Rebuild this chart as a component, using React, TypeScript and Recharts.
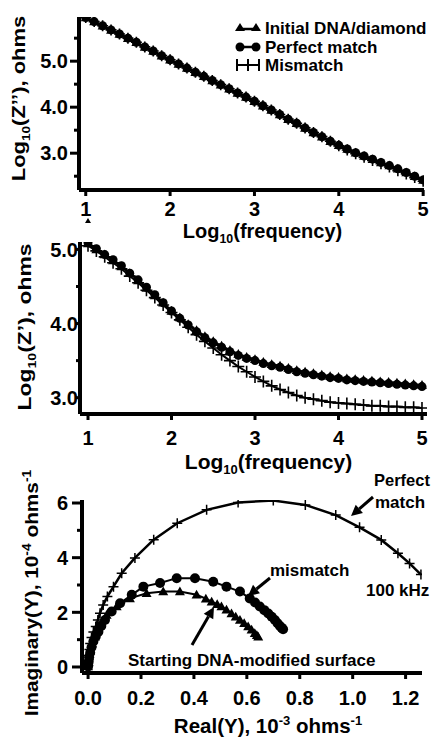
import React from 'react'
import { LineChart, Line, XAxis, YAxis } from 'recharts'

const FONT = "'Liberation Sans', Arial, Helvetica, sans-serif"
const ink = '#000'

// log10(frequency), shared by the two Bode panels
const logFreq = [
  1.0, 1.1, 1.2, 1.3, 1.4, 1.5, 1.6, 1.7, 1.8, 1.9, 2.0, 2.1, 2.2, 2.3, 2.4, 2.5, 2.6, 2.7, 2.8, 2.9, 3.0,
  3.1, 3.2, 3.3, 3.4, 3.5, 3.6, 3.7, 3.8, 3.9, 4.0, 4.1, 4.2, 4.3, 4.4, 4.5, 4.6, 4.7, 4.8, 4.9, 5.0,
]

// top panel: log10(Z'')
const zImagInitial = [
  5.95, 5.86, 5.77, 5.68, 5.59, 5.50, 5.41, 5.31, 5.22, 5.12, 5.03, 4.94, 4.85, 4.76, 4.67, 4.58, 4.49, 4.40, 4.31, 4.22, 4.13,
  4.03, 3.94, 3.84, 3.74, 3.65, 3.55, 3.45, 3.36, 3.26, 3.17, 3.09, 3.01, 2.94, 2.87, 2.80, 2.73, 2.66, 2.58, 2.50, 2.42,
]
const zImagPerfect = [
  5.95, 5.86, 5.77, 5.68, 5.59, 5.50, 5.41, 5.31, 5.22, 5.12, 5.03, 4.94, 4.85, 4.76, 4.67, 4.58, 4.49, 4.40, 4.31, 4.22, 4.13,
  4.03, 3.94, 3.84, 3.74, 3.65, 3.55, 3.45, 3.36, 3.26, 3.17, 3.09, 3.01, 2.94, 2.87, 2.80, 2.73, 2.66, 2.58, 2.50, 2.42,
]
const zImagMismatch = [
  5.95, 5.86, 5.77, 5.68, 5.59, 5.50, 5.41, 5.31, 5.22, 5.12, 5.03, 4.94, 4.85, 4.76, 4.67, 4.58, 4.49, 4.40, 4.31, 4.22, 4.13,
  4.03, 3.94, 3.84, 3.74, 3.65, 3.55, 3.45, 3.36, 3.26, 3.16, 3.07, 2.99, 2.91, 2.84, 2.77, 2.70, 2.62, 2.55, 2.47, 2.39,
]

// middle panel: log10(Z')
const zRealInitial = [
  5.08, 5.00, 4.93, 4.85, 4.77, 4.68, 4.58, 4.48, 4.38, 4.28, 4.17, 4.08, 3.99, 3.91, 3.83, 3.76, 3.70, 3.64, 3.59, 3.55, 3.52,
  3.48, 3.45, 3.43, 3.40, 3.37, 3.35, 3.33, 3.31, 3.29, 3.28, 3.26, 3.25, 3.24, 3.23, 3.22, 3.21, 3.20, 3.19, 3.18, 3.17,
]
const zRealPerfect = [
  5.09, 5.01, 4.93, 4.86, 4.78, 4.68, 4.59, 4.49, 4.39, 4.28, 4.17, 4.07, 3.98, 3.89, 3.81, 3.74, 3.68, 3.62, 3.57, 3.53, 3.50,
  3.46, 3.43, 3.41, 3.38, 3.35, 3.33, 3.31, 3.29, 3.27, 3.26, 3.24, 3.23, 3.22, 3.21, 3.20, 3.19, 3.18, 3.17, 3.16, 3.15,
]
const zRealMismatch = [
  5.05, 4.98, 4.90, 4.82, 4.74, 4.64, 4.55, 4.45, 4.35, 4.25, 4.15, 4.05, 3.95, 3.85, 3.76, 3.67, 3.58, 3.50, 3.42, 3.35, 3.28,
  3.22, 3.16, 3.11, 3.07, 3.03, 3.00, 2.98, 2.96, 2.94, 2.93, 2.92, 2.91, 2.90, 2.89, 2.89, 2.88, 2.88, 2.87, 2.87, 2.86,
]

// bottom panel: admittance plane, Real(Y) in 1e-3, Imag(Y) in 1e-4
const triRe = [0.000, 0.002, 0.004, 0.008, 0.015, 0.026, 0.035, 0.045, 0.070, 0.108, 0.158, 0.221, 0.284, 0.347, 0.410, 0.445, 0.467, 0.488, 0.504, 0.523, 0.542, 0.558, 0.574, 0.590, 0.605, 0.618, 0.630, 0.638, 0.643]
const triIm = [0.02, 0.18, 0.38, 0.60, 0.86, 1.11, 1.32, 1.54, 1.90, 2.21, 2.51, 2.70, 2.76, 2.76, 2.64, 2.50, 2.39, 2.30, 2.21, 2.09, 1.96, 1.84, 1.72, 1.60, 1.48, 1.36, 1.23, 1.16, 1.11]
const dotRe = [0.000, 0.002, 0.004, 0.008, 0.013, 0.020, 0.029, 0.039, 0.050, 0.064, 0.089, 0.121, 0.165, 0.209, 0.272, 0.335, 0.404, 0.473, 0.523, 0.574, 0.611, 0.631, 0.649, 0.666, 0.681, 0.694, 0.706, 0.716, 0.725, 0.732, 0.737]
const dotIm = [0.02, 0.18, 0.36, 0.52, 0.72, 0.93, 1.12, 1.29, 1.50, 1.72, 2.03, 2.33, 2.64, 2.94, 3.07, 3.25, 3.25, 3.12, 2.94, 2.76, 2.51, 2.36, 2.21, 2.08, 1.96, 1.84, 1.72, 1.60, 1.50, 1.43, 1.38]
const crossRe = [0.000, 0.001, 0.003, 0.005, 0.008, 0.013, 0.020, 0.029, 0.037, 0.045, 0.057, 0.073, 0.096, 0.127, 0.177, 0.248, 0.337, 0.448, 0.567, 0.700, 0.821, 0.936, 1.026, 1.108, 1.171, 1.215, 1.258]
const crossIm = [0.05, 0.22, 0.42, 0.64, 0.86, 1.08, 1.28, 1.48, 1.72, 1.97, 2.27, 2.58, 2.94, 3.43, 3.99, 4.66, 5.26, 5.75, 6.02, 6.09, 5.93, 5.56, 5.11, 4.65, 4.16, 3.79, 3.38]

const freqTicks = [1, 2, 3, 4, 5]
const imagYTicks = [2.5, 3.0, 3.5, 4.0, 4.5, 5.0, 5.5]
const realYTicks = [3.0, 3.5, 4.0, 4.5, 5.0]
const bodeYLabels = [3, 4, 5]
const reTicks = [0, 0.2, 0.4, 0.6, 0.8, 1.0, 1.2]
const imTicks = [0, 1, 2, 3, 4, 5, 6]
const imLabels = [0, 2, 4, 6]

const imagRows = logFreq.map((f, i) => ({ f, tri: zImagInitial[i], dot: zImagPerfect[i], crs: zImagMismatch[i] }))
const realRows = logFreq.map((f, i) => ({ f, tri: zRealInitial[i], dot: zRealPerfect[i], crs: zRealMismatch[i] }))
const triPts = triRe.map((x, i) => ({ x, y: triIm[i] }))
const dotPts = dotRe.map((x, i) => ({ x, y: dotIm[i] }))
const crossPts = crossRe.map((x, i) => ({ x, y: crossIm[i] }))

const triDot = (r: number) => (p: any) =>
  p.cx == null ? <g key={p.index} /> : (
    <path key={p.index} d={`M${p.cx},${p.cy - r}L${p.cx + r},${p.cy + r * 0.75}L${p.cx - r},${p.cy + r * 0.75}Z`} fill={ink} />
  )
const circleDot = (r: number) => (p: any) =>
  p.cx == null ? <g key={p.index} /> : <circle key={p.index} cx={p.cx} cy={p.cy} r={r} fill={ink} />
const crossDot = (r: number, w: number) => (p: any) =>
  p.cx == null ? <g key={p.index} /> : (
    <path key={p.index} d={`M${p.cx - r},${p.cy}H${p.cx + r}M${p.cx},${p.cy - r}V${p.cy + r}`} stroke={ink} strokeWidth={w} fill="none" />
  )

// left ticks: long ones carry a label, short ones do not
const yTick = (labeled: number[], fmt: (v: number) => string, major: number, minor: number, gap: number) => (p: any) => {
  const v = p.payload.value
  const isMajor = labeled.includes(v)
  const len = isMajor ? major : minor
  return (
    <g key={`t${v}`}>
      <line x1={p.x - len} y1={p.y} x2={p.x} y2={p.y} stroke={ink} strokeWidth={3} />
      {isMajor && (
        <text x={p.x - len - gap} y={p.y} dy="0.36em" textAnchor="end" fontSize={20} fontWeight={700} fontFamily={FONT} fill={ink}>
          {fmt(v)}
        </text>
      )}
    </g>
  )
}

const xTitle = (dx: number, dy: number, size: number, parts: React.ReactNode) => ({
  content: (p: any) => {
    const vb = p.viewBox
    return (
      <text x={vb.x + vb.width / 2 + dx} y={vb.y + dy} textAnchor="middle" fontSize={size} fontWeight={700} fontFamily={FONT} fill={ink} style={{ whiteSpace: 'pre' }}>
        {parts}
      </text>
    )
  },
})

const yTitle = (baseX: number, dy: number, size: number, stretch: number, parts: React.ReactNode) => ({
  content: (p: any) => {
    const vb = p.viewBox
    const cy = vb.y + vb.height / 2 + dy
    return (
      <text transform={`translate(${baseX},${cy}) rotate(-90) scale(${stretch},1)`} textAnchor="middle" fontSize={size} fontWeight={700} fontFamily={FONT} fill={ink} style={{ whiteSpace: 'pre' }}>
        {parts}
      </text>
    )
  },
})

const sub = (s: string, size: number, rest: string) => [
  <tspan key="a" fontSize={size * 0.62} dy={size * 0.25}>{s}</tspan>,
  <tspan key="b" dy={-size * 0.25}>{rest}</tspan>,
]

const axisLine = { stroke: ink, strokeWidth: 4 }
const tickLine = { stroke: ink, strokeWidth: 3 }
const tickFont = { fill: ink, fontSize: 20, fontWeight: 700, fontFamily: FONT }

function Arrow({ x1, y1, x2, y2 }: { x1: number; y1: number; x2: number; y2: number }) {
  const a = Math.atan2(y2 - y1, x2 - x1)
  const L = 11
  const W = 5.5
  const bx = x2 - L * Math.cos(a)
  const by = y2 - L * Math.sin(a)
  const nx = -Math.sin(a) * W
  const ny = Math.cos(a) * W
  return (
    <g>
      <line x1={x1} y1={y1} x2={bx} y2={by} stroke={ink} strokeWidth={3} />
      <path d={`M${x2},${y2}L${bx + nx},${by + ny}L${bx - nx},${by - ny}Z`} fill={ink} />
    </g>
  )
}

function Overlay() {
  const t = { fontSize: 17, fontWeight: 700, fontFamily: FONT, fill: ink }
  return (
    <svg width={433} height={739} style={{ position: 'absolute', left: 0, top: 0, pointerEvents: 'none' }}>
      {/* legend */}
      <line x1={240} y1={29} x2={256} y2={29} stroke={ink} strokeWidth={2.5} />
      <path d="M240,23L245,31L235,31Z M256,23L261,31L251,31Z" fill={ink} />
      <line x1={240} y1={47} x2={256} y2={47} stroke={ink} strokeWidth={2.5} />
      <circle cx={240} cy={47} r={4.5} fill={ink} />
      <circle cx={256} cy={47} r={4.5} fill={ink} />
      <path d="M236,65H260M237,59V71M248,59V71M259,59V71" stroke={ink} strokeWidth={2} />
      <text x={265} y={34} {...t}>Initial DNA/diamond</text>
      <text x={265} y={53} {...t}>Perfect match</text>
      <text x={265} y={71} {...t}>Mismatch</text>
      <path d="M88,218L91,223L85,223Z" fill={ink} />

      {/* admittance annotations */}
      <text x={374} y={486} {...t} fontSize={16.5}>Perfect</text>
      <text x={375} y={508} {...t}>match</text>
      <Arrow x1={373} y1={497} x2={351} y2={516} />
      <text x={270} y={576} {...t}>mismatch</text>
      <Arrow x1={270} y1={578} x2={248} y2={596} />
      <text x={366} y={596} {...t}>100 kHz</text>
      <text x={128} y={666} {...t}>Starting DNA-modified surface</text>
      <Arrow x1={192} y1={645} x2={214} y2={607} />
    </svg>
  )
}

export default function App() {
  return (
    <div style={{ position: 'absolute', left: 0, top: 0, width: 433, height: 739, background: '#fff', overflow: 'hidden' }}>
      <LineChart width={433} height={252} data={imagRows} margin={{ top: 17, right: 9, bottom: 0, left: 0 }} style={{ position: 'absolute', left: 0, top: 0 }}>
        <XAxis type="number" dataKey="f" domain={[0.92, 5.01]} ticks={freqTicks} interval={0} allowDataOverflow height={62}
          tickSize={6} tickMargin={6} tick={tickFont} axisLine={axisLine} tickLine={tickLine}
          label={xTitle(11, 48, 20, ['Log', ...sub('10', 20, '(frequency)')])} />
        <YAxis type="number" domain={[2.2, 5.96]} ticks={imagYTicks} interval={0} allowDataOverflow width={79}
          tickSize={0} tickMargin={0} tickLine={false} axisLine={axisLine}
          tick={yTick(bodeYLabels, (v) => v.toFixed(1), 9, 5, 2)}
          label={yTitle(25, -5, 18, 1.22, ['Log', ...sub('10', 18, '(Z\u2019\u2019), ohms')])} />
        <Line dataKey="tri" stroke={ink} strokeWidth={2} dot={triDot(5)} activeDot={false} isAnimationActive={false} />
        <Line dataKey="dot" stroke={ink} strokeWidth={2} dot={circleDot(4.5)} activeDot={false} isAnimationActive={false} />
        <Line dataKey="crs" stroke={ink} strokeWidth={2} dot={crossDot(5.5, 1.6)} activeDot={false} isAnimationActive={false} />
      </LineChart>

      <LineChart width={433} height={244} data={realRows} margin={{ top: 2, right: 6, bottom: 0, left: 0 }} style={{ position: 'absolute', left: 0, top: 240 }}>
        <XAxis type="number" dataKey="f" domain={[0.904, 5.06]} ticks={freqTicks} interval={0} allowDataOverflow height={70}
          tickSize={6} tickMargin={11} tick={tickFont} axisLine={axisLine} tickLine={tickLine}
          label={xTitle(15, 55, 21, ['Log', ...sub('10', 21, '(frequency)')])} />
        <YAxis type="number" domain={[2.78, 5.1]} ticks={realYTicks} interval={0} allowDataOverflow width={80}
          tickSize={0} tickMargin={0} tickLine={false} axisLine={axisLine}
          tick={yTick(bodeYLabels, (v) => v.toFixed(1), 4, 4, -2)}
          label={yTitle(31, -1, 18, 1.27, ['Log', ...sub('10', 18, '(Z\u2019), ohms')])} />
        <Line dataKey="tri" stroke={ink} strokeWidth={2} dot={triDot(5)} activeDot={false} isAnimationActive={false} />
        <Line dataKey="dot" stroke={ink} strokeWidth={2} dot={circleDot(4.5)} activeDot={false} isAnimationActive={false} />
        <Line dataKey="crs" stroke={ink} strokeWidth={2} dot={crossDot(6, 1.6)} activeDot={false} isAnimationActive={false} />
      </LineChart>

      <LineChart width={433} height={289} margin={{ top: 50, right: 11, bottom: 0, left: 0 }} style={{ position: 'absolute', left: 0, top: 450 }}>
        <XAxis type="number" dataKey="x" domain={[-0.023, 1.262]} ticks={reTicks} interval={0} allowDataOverflow height={66}
          tickSize={6} tickMargin={12} tick={tickFont} axisLine={axisLine} tickLine={tickLine}
          tickFormatter={(v: number) => v.toFixed(1)}
          label={xTitle(16, 60, 20.5, [
            'Real(Y), 10',
            <tspan key="s1" fontSize={13} dy={-8}>-3</tspan>,
            <tspan key="s2" dy={8}> ohms</tspan>,
            <tspan key="s3" fontSize={13} dy={-8}>-1</tspan>,
          ])} />
        <YAxis type="number" dataKey="y" domain={[-0.22, 6.11]} ticks={imTicks} interval={0} allowDataOverflow width={82}
          tickSize={0} tickMargin={0} tickLine={false} axisLine={axisLine}
          tick={yTick(imLabels, (v) => String(v), 10, 5, 4)}
          label={yTitle(38, 6.5, 18, 1.156, [
            'Imaginary(Y), 10',
            <tspan key="s1" fontSize={12} dy={-7}>-4</tspan>,
            <tspan key="s2" dy={7}> ohms</tspan>,
            <tspan key="s3" fontSize={12} dy={-7}>-1</tspan>,
          ])} />
        <Line data={crossPts} dataKey="y" stroke={ink} strokeWidth={2.5} dot={crossDot(5, 1.5)} activeDot={false} isAnimationActive={false} />
        <Line data={dotPts} dataKey="y" stroke={ink} strokeWidth={2} dot={circleDot(5)} activeDot={false} isAnimationActive={false} />
        <Line data={triPts} dataKey="y" stroke={ink} strokeWidth={2} dot={triDot(5)} activeDot={false} isAnimationActive={false} />
      </LineChart>

      <Overlay />
    </div>
  )
}
